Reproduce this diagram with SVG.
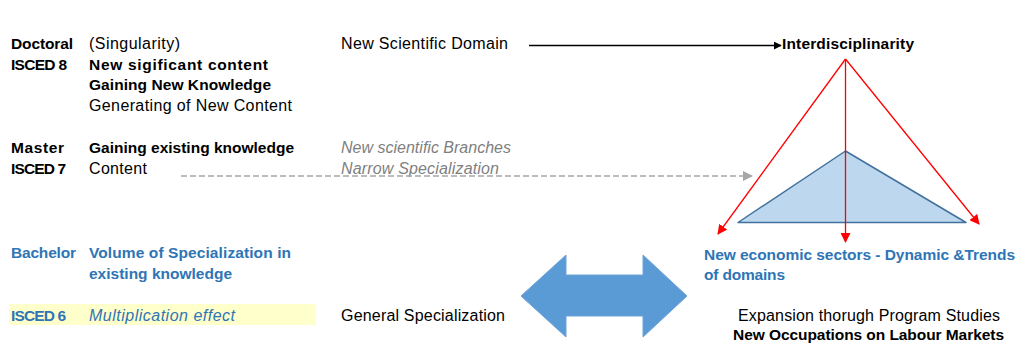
<svg xmlns="http://www.w3.org/2000/svg" width="1032" height="345" viewBox="0 0 1032 345">
<style>
text{font-family:"Liberation Sans",Arial,sans-serif;font-size:16px;fill:#000}
.b{font-weight:bold;font-size:15.5px}
.i{font-style:italic}
.blue{fill:#2e75b6}
.gray{fill:#7f7f7f}
.red{stroke:#ff0000;stroke-width:1.3;fill:none}
</style>
<defs>
<marker id="ab" viewBox="0 0 10 10" refX="9" refY="5" markerWidth="8" markerHeight="8" markerUnits="userSpaceOnUse" orient="auto"><path d="M0,0L10,5L0,10z" fill="#000"/></marker>
<marker id="ag" viewBox="0 0 10 10" refX="9" refY="5" markerWidth="10" markerHeight="10" markerUnits="userSpaceOnUse" orient="auto"><path d="M0,0L10,5L0,10z" fill="#a6a6a6"/></marker>
<marker id="ar" viewBox="0 0 10 10" refX="9" refY="5" markerWidth="10" markerHeight="10" markerUnits="userSpaceOnUse" orient="auto"><path d="M0,0L10,5L0,10z" fill="#ff0000"/></marker>
</defs>
<rect x="9" y="304" width="307" height="21" fill="#ffffcc"/>
<g id="doctoral">
<text x="11" y="49" class="b" textLength="62">Doctoral</text>
<text x="11" y="70" class="b" textLength="56">ISCED 8</text>
<text x="89" y="49" textLength="91">(Singularity)</text>
<text x="89" y="70" class="b" textLength="179">New sigificant content</text>
<text x="89" y="90" class="b" textLength="182">Gaining New Knowledge</text>
<text x="89" y="111" textLength="203">Generating of New Content</text>
</g>
<g id="master">
<text x="11" y="153" class="b" textLength="53">Master</text>
<text x="11" y="174" class="b" textLength="55">ISCED 7</text>
<text x="89" y="153" class="b" textLength="205">Gaining existing knowledge</text>
<text x="89" y="174" textLength="58">Content</text>
</g>
<g id="bachelor">
<text x="11" y="258" class="b blue" textLength="65">Bachelor</text>
<text x="89" y="258" class="b blue" textLength="202">Volume of Specialization in</text>
<text x="89" y="279" class="b blue" textLength="143">existing knowledge</text>
<text x="11" y="321" class="b blue" textLength="55">ISCED 6</text>
<text x="89" y="321" class="i blue" textLength="146">Multiplication effect</text>
</g>
<g id="domain">
<text x="341" y="49" textLength="167">New Scientific Domain</text>
</g>
<g id="branches">
<text x="341" y="153" class="i gray" textLength="170">New scientific Branches</text>
<text x="341" y="174" class="i gray" textLength="158">Narrow Specialization</text>
</g>
<g id="general">
<text x="341" y="321" textLength="164">General Specialization</text>
</g>
<g id="interdisciplinarity">
<text x="782" y="49" class="b" textLength="132">Interdisciplinarity</text>
</g>
<g id="triangle">
<path d="M845.5,151L738,222.5L966,222.5z" fill="#bdd7ee" stroke="#41719c" stroke-width="1.5" stroke-linejoin="round"/>
</g>
<g id="sectors">
<text x="704" y="260" class="b blue" textLength="311">New economic sectors - Dynamic &amp;Trends</text>
<text x="704" y="280" class="b blue" textLength="81">of domains</text>
</g>
<g id="occupations">
<text x="738" y="321" textLength="262">Expansion thorugh Program Studies</text>
<text x="733" y="340" class="b" textLength="271">New Occupations on Labour Markets</text>
</g>
<g id="double-arrow">
<path d="M521,296L566,255L566,275L643,275L643,255L687,296L643,337L643,316L566,316L566,337z" fill="#5b9bd5" stroke="#6fa4d8" stroke-width="1"/>
</g>
<g id="connectors">
<line x1="529" y1="45.5" x2="781" y2="45.5" stroke="#000" stroke-width="1.3" marker-end="url(#ab)"/>
<line x1="181" y1="176" x2="752" y2="176" stroke="#a6a6a6" stroke-width="1.5" stroke-dasharray="6,3" marker-end="url(#ag)"/>
<line x1="845.5" y1="59" x2="718" y2="234" class="red" marker-end="url(#ar)"/>
<line x1="845.5" y1="59" x2="845.5" y2="242" class="red" marker-end="url(#ar)"/>
<line x1="845.5" y1="59" x2="979" y2="224" class="red" marker-end="url(#ar)"/>
</g>
</svg>
